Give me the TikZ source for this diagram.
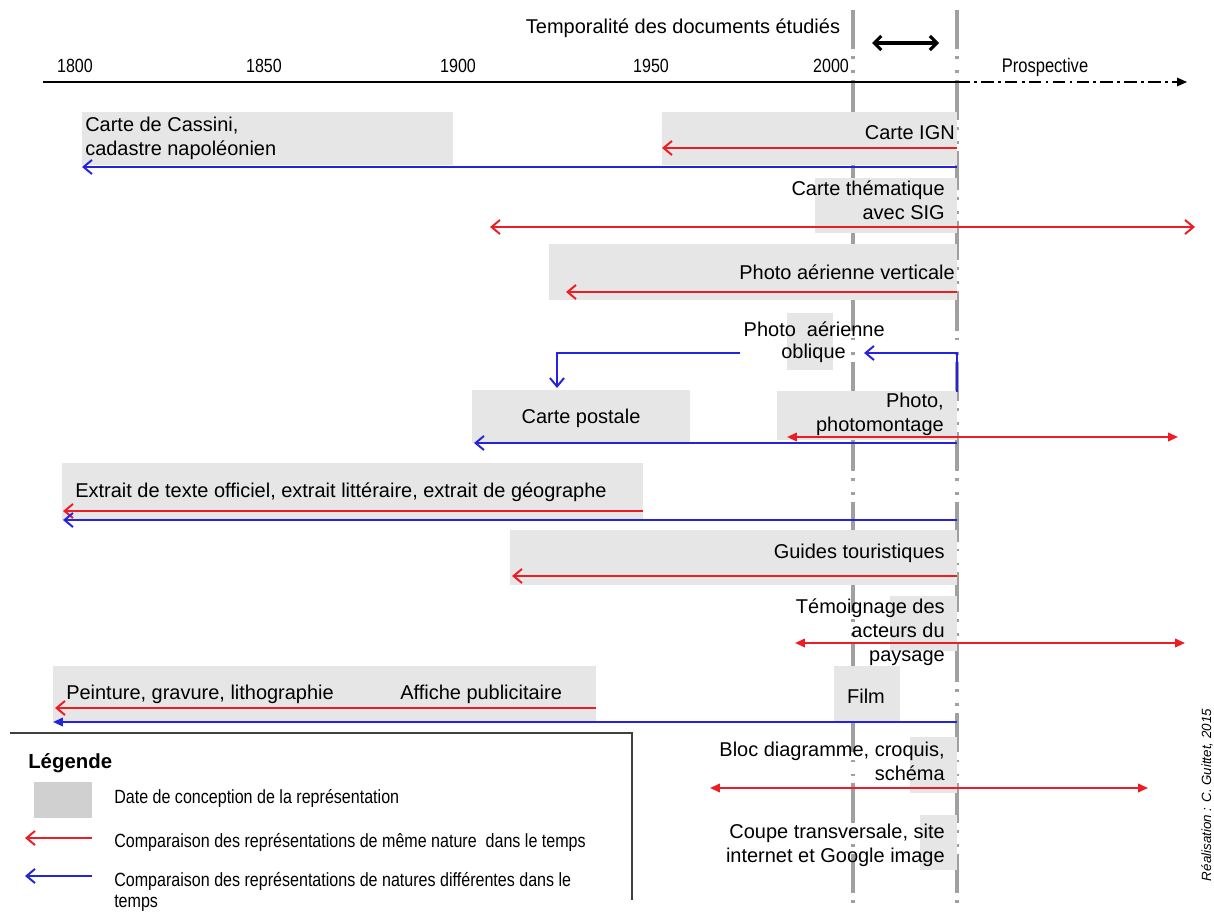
\documentclass[tikz,border=0pt]{standalone}
\usepackage{fontspec}
\setmainfont{Liberation Sans}
\newfontfamily\narrowfont{Liberation Sans}[FakeStretch=0.84]
\usepackage{tikz}
\usetikzlibrary{arrows.meta, fit}
\definecolor{bandgray}{HTML}{E6E6E6}
\definecolor{keygray}{HTML}{D0D0D0}
\definecolor{nowgray}{HTML}{A0A0A0}
\definecolor{samered}{HTML}{EE1C25}
\definecolor{diffblue}{HTML}{2424DC}

\begin{document}
\begin{tikzpicture}[
  x=0.025cm, y=-0.025cm,
  every node/.style={inner sep=0pt, font=\fontsize{14.2}{17}\selectfont},
  band/.style={fill=bandgray, inner sep=0pt},
  lbl/.style={align=right, anchor=east},
  lblw/.style={align=left, anchor=west},
  yr/.style={font=\narrowfont\fontsize{13.6}{15}\selectfont},
  keytxt/.style={anchor=west, align=left, font=\narrowfont\fontsize{13.6}{15.5}\selectfont},
  timeline/.style={nowgray, line width=2.6pt,
                   dash pattern=on 28pt off 5pt on 2pt off 8pt on 2pt off 5pt},
  same/.style={samered, line width=1.4pt, -{Straight Barb[length=6pt,width=10pt]}},
  sameopen/.style={samered, line width=1.4pt,
                   {Straight Barb[length=6pt,width=10pt]}-{Straight Barb[length=6pt,width=10pt]}},
  samefull/.style={samered, line width=1.4pt,
                   {Triangle[length=7pt,width=6pt]}-{Triangle[length=7pt,width=6pt]}},
  diff/.style={diffblue, line width=1.4pt, -{Straight Barb[length=6pt,width=10pt]}},
  difffull/.style={diffblue, line width=1.4pt, -{Triangle[length=7pt,width=6pt]}},
]
  \useasboundingbox (0,0) rectangle (1214,912);

  % time lines (2000 and today)
  \coordinate (t2000a) at (853,10);
  \coordinate (t2000b) at (853,912);
  \coordinate (nowa) at (957,10);
  \coordinate (nowb) at (957,912);
  \draw[timeline] (t2000a) -- (t2000b);
  \draw[timeline] (nowa) -- (nowb);

  % title and axis
  \node[font=\fontsize{14.2}{17}\selectfont] (title) at (683,28) {Temporalité des documents étudiés};
  \coordinate (span-l) at (872,43);
  \coordinate (span-r) at (939,43);
  \draw[line width=2.2pt, {Straight Barb[length=5pt,width=10pt]}-{Straight Barb[length=5pt,width=10pt]}]
    (span-l) -- (span-r);
  \node[yr] (y1800) at (75,66) {1800};
  \node[yr] (y1850) at (264,66) {1850};
  \node[yr] (y1900) at (458,66) {1900};
  \node[yr] (y1950) at (651,66) {1950};
  \node[yr] (y2000) at (831,66) {2000};
  \node[yr, font=\narrowfont\fontsize{14}{16}\selectfont] (prosp) at (1045,67) {Prospective};
  \coordinate (ax0) at (43,82);
  \coordinate (axnow) at (957,82);
  \coordinate (ax1) at (1187,82);
  \draw[line width=1.6pt] (ax0) -- (axnow);
  \draw[line width=1.1pt, dash pattern=on 9pt off 3pt on 2pt off 3pt,
        -{Triangle[length=7pt,width=6pt]}] (axnow) -- (ax1);

  % date bands
  \node[band, fit={(82,112) (453,165)}] (cassini) {};
  \node[band, fit={(662,112) (957,165)}] (ign) {};
  \node[band, fit={(815,178) (957,233)}] (them) {};
  \node[band, fit={(549,244) (957,300)}] (vert) {};
  \node[band, fit={(787,313) (833,370)}] (obl) {};
  \node[band, fit={(472,390) (690,443)}] (post) {};
  \node[band, fit={(777,391) (957,440)}] (photo) {};
  \node[band, fit={(62,463) (643,520)}] (extr) {};
  \node[band, fit={(510,530) (957,585)}] (guide) {};
  \node[band, fit={(890,596) (957,651)}] (temo) {};
  \node[band, fit={(834,666) (900,722)}] (film) {};
  \node[band, fit={(53,666) (596,722)}] (paint) {};
  \node[band, fit={(910,737) (957,793)}] (bloc) {};
  \node[band, fit={(920,815) (957,870)}] (coupe) {};

  % labels
  \node[lblw] (cassiniT) at (85,138.5) {Carte de Cassini,\\cadastre napoléonien};
  \node[lbl] (ignT) at (955,133) {Carte IGN};
  \node[lbl] (themT) at (945,200) {Carte thématique\\avec SIG};
  \node[lbl] (vertT) at (955,272) {Photo aérienne verticale};
  \node[lbl] (oblT1) at (885,329) {Photo\ \ aérienne};
  \node[lbl] (oblT2) at (846,353) {oblique};
  \node (postT) at (581,418) {Carte postale};
  \node[lbl] (photoT) at (944,414) {Photo,\\photomontage};
  \node[lblw] (extrT) at (75,492) {Extrait de texte officiel, extrait littéraire, extrait de géographe};
  \node[lbl] (guideT) at (945,553) {Guides touristiques};
  \node[lbl] (temoT) at (945,632) {Témoignage des\\acteurs du\\paysage};
  \node (filmT) at (866,696) {Film};
  \node[lblw] (paintT) at (66,694) {Peinture, gravure, lithographie};
  \node[lblw] (afficheT) at (400,694) {Affiche publicitaire};
  \node[lbl] (blocT) at (945,761) {Bloc diagramme, croquis,\\schéma};
  \node[lbl] (coupeT) at (945,845.5) {Coupe transversale, site\\internet et Google image};

  % comparisons
  \coordinate (ign-r) at (957,148);
  \coordinate (ign-l) at (662,148);
  \draw[same] (ign-r) -- (ign-l);
  \coordinate (cas-r) at (957,167);
  \coordinate (cas-l) at (82,167);
  \draw[diff] (cas-r) -- (cas-l);
  \coordinate (them-l) at (490,227);
  \coordinate (them-r) at (1195,227);
  \draw[sameopen] (them-l) -- (them-r);
  \coordinate (vert-r) at (957,292);
  \coordinate (vert-l) at (566,292);
  \draw[same] (vert-r) -- (vert-l);
  \coordinate (obl-s) at (957,392);
  \coordinate (obl-t) at (864,353);
  \draw[diff] (obl-s) |- (obl-t);
  \coordinate (post-s) at (740,353);
  \coordinate (post-t) at (557,388);
  \draw[diff] (post-s) -| (post-t);
  \coordinate (photo-l) at (787,437);
  \coordinate (photo-r) at (1178,437);
  \draw[samefull] (photo-l) -- (photo-r);
  \coordinate (post-r) at (957,443);
  \coordinate (post-l) at (474,443);
  \draw[diff] (post-r) -- (post-l);
  \coordinate (extr-r) at (643,511);
  \coordinate (extr-l) at (63,511);
  \draw[same] (extr-r) -- (extr-l);
  \coordinate (extrb-r) at (957,520);
  \coordinate (extrb-l) at (63,520);
  \draw[diff] (extrb-r) -- (extrb-l);
  \coordinate (guide-r) at (957,576);
  \coordinate (guide-l) at (512,576);
  \draw[same] (guide-r) -- (guide-l);
  \coordinate (temo-l) at (795,643);
  \coordinate (temo-r) at (1185,643);
  \draw[samefull] (temo-l) -- (temo-r);
  \coordinate (paint-r) at (596,708);
  \coordinate (paint-l) at (55,708);
  \draw[same] (paint-r) -- (paint-l);
  \coordinate (paintb-r) at (957,722);
  \coordinate (paintb-l) at (53,722);
  \draw[difffull] (paintb-r) -- (paintb-l);
  \coordinate (bloc-l) at (710,788);
  \coordinate (bloc-r) at (1148,788);
  \draw[samefull] (bloc-l) -- (bloc-r);

  % legend
  \coordinate (leg-l) at (10,733);
  \coordinate (leg-c) at (632,733);
  \coordinate (leg-b) at (632,900);
  \draw[line width=1pt, black!75] (leg-l) -- (leg-c) -- (leg-b);
  \node[anchor=west, font=\bfseries\fontsize{14.5}{17}\selectfont] (legT) at (28,763) {Légende};
  \node[fill=keygray, fit={(34,782) (92,818)}] (keyband) {};
  \node[keytxt] (keyT1) at (114,798) {Date de conception de la représentation};
  \coordinate (key2-r) at (92,838);
  \coordinate (key2-l) at (25,838);
  \draw[same] (key2-r) -- (key2-l);
  \node[keytxt] (keyT2) at (114,842) {Comparaison des représentations de même nature\ \ dans le temps};
  \coordinate (key3-r) at (92,876);
  \coordinate (key3-l) at (25,876);
  \draw[diff] (key3-r) -- (key3-l);
  \node[keytxt] (keyT3) at (114,892) {Comparaison des représentations de natures différentes dans le\\temps};

  % credit
  \node[rotate=90, font=\itshape\fontsize{9.5}{11}\selectfont] (credit) at (1207,795)
    {Réalisation : C. Guittet, 2015};
\end{tikzpicture}
\end{document}
